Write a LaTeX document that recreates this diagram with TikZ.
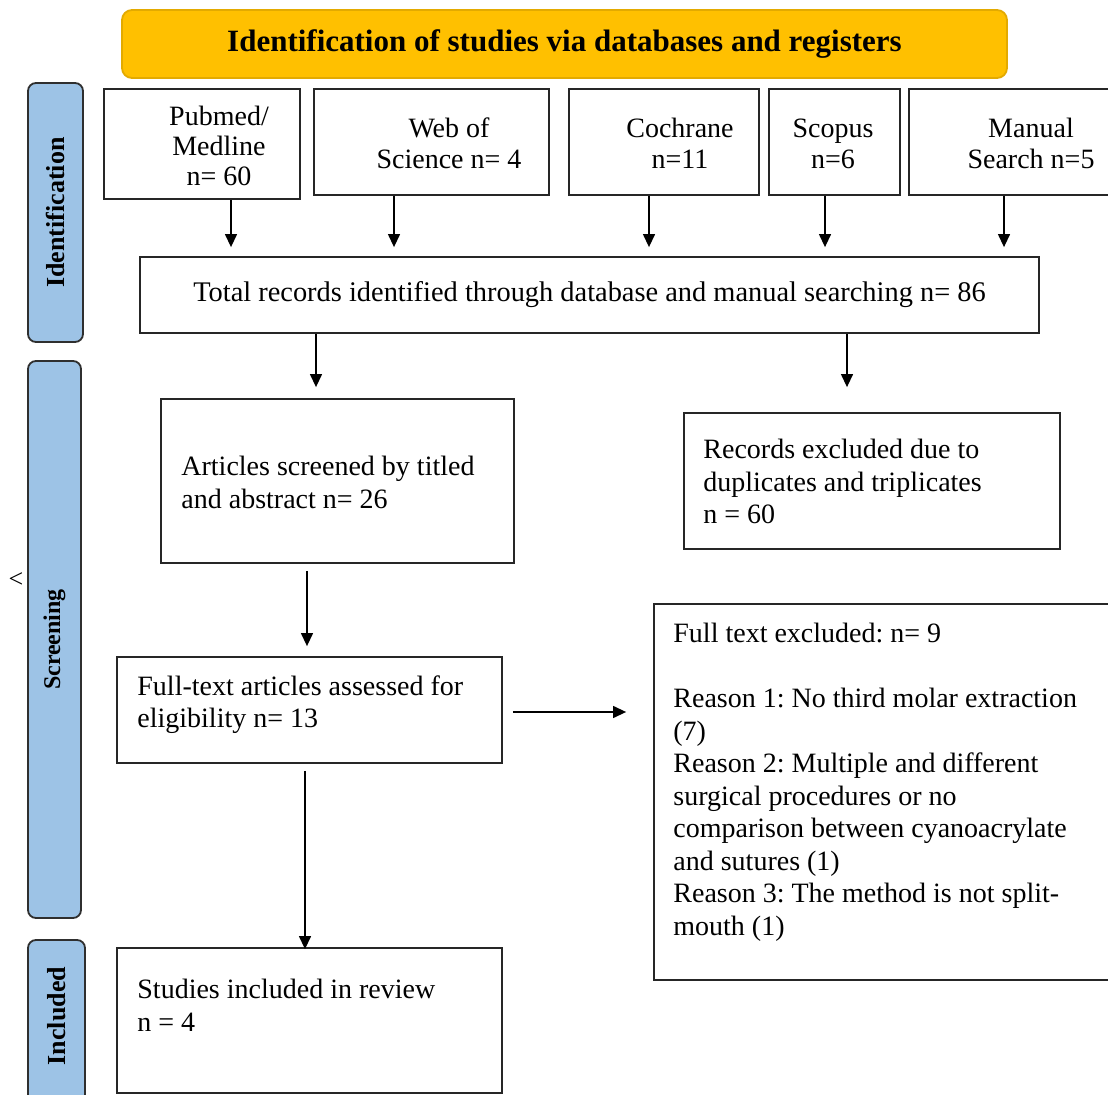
\documentclass[tikz,border=0pt]{standalone}
\usepackage{fontspec}
\setmainfont{Liberation Serif}
\usetikzlibrary{arrows.meta}
\definecolor{titlefill}{HTML}{FFC000}
\definecolor{titledraw}{HTML}{E3AA00}
\definecolor{sidefill}{HTML}{9DC3E6}
\definecolor{sidedraw}{HTML}{2F2F2F}
\frenchspacing
\begin{document}
\begin{tikzpicture}[x=0.5pt,y=-0.5pt,
  box/.style={draw=black!85,line width=0.9pt,rectangle,inner sep=0pt},
  side/.style={draw=sidedraw,fill=sidefill,line width=0.9pt,rounded corners=4pt,inner sep=0pt},
  sidetxt/.style={font=\fontsize{13pt}{13pt}\selectfont\bfseries,inner sep=0pt},
  ctxt/.style={align=center,font=\fontsize{14pt}{15.5pt}\selectfont,inner sep=0pt},
  ltxt/.style={align=left,font=\fontsize{14pt}{16.25pt}\selectfont,inner sep=0pt,anchor=north west},
  arr/.style={-{Triangle[length=6.5pt,width=6pt]},line width=0.65pt,black}
]
\useasboundingbox (0,0) rectangle (1108,1095);

% title
\node[draw=titledraw,fill=titlefill,line width=0.9pt,rounded corners=5pt,
      minimum width=442.5pt,minimum height=34pt,inner sep=0pt,
      font=\fontsize{15.5pt}{15.5pt}\selectfont\bfseries] (title) at (564.5,44)
      {Identification of studies via databases and registers};

% side labels
\node[side,sidetxt,minimum width=129.5pt,minimum height=27.5pt,rotate=90] (sid) at (55.5,212.5) {Identification};
\node[side,sidetxt,minimum width=278.5pt,minimum height=26.5pt,rotate=90,
      font=\fontsize{12pt}{12pt}\selectfont\bfseries] (sscr) at (54.5,639.5) {Screening};
\node[side,minimum width=97.5pt,minimum height=28.5pt,rotate=90] (sinc) at (56.5,1037.5) {};
\node[sidetxt,rotate=90] (sincT) at (56.5,1016) {Included};
\node[inner sep=0pt,font=\fontsize{13pt}{13pt}\selectfont] (mark) at (16,580) {<};

% source boxes
\node[box,minimum width=98pt,minimum height=55pt] (pub) at (202,144) {};
\node[ctxt,font=\fontsize{14pt}{15pt}\selectfont] (pubT) at (219,146) {Pubmed/\\Medline\\n= 60};
\node[box,minimum width=117.5pt,minimum height=53pt] (wos) at (431.5,142) {};
\node[ctxt] (wosT) at (449,143.5) {Web of\\Science n= 4};
\node[box,minimum width=95pt,minimum height=53pt] (coch) at (664,142) {};
\node[ctxt] (cochT) at (680,143.5) {Cochrane\\n=11};
\node[box,minimum width=65.5pt,minimum height=53pt] (scop) at (834.5,142) {};
\node[ctxt] (scopT) at (833,143.5) {Scopus\\n=6};
\node[box,minimum width=102.5pt,minimum height=53pt] (man) at (1011.5,142) {};
\node[ctxt] (manT) at (1031,143.5) {Manual\\Search n=5};

% total
\node[box,minimum width=449.5pt,minimum height=38pt,font=\fontsize{14.2pt}{16.25pt}\selectfont] (total) at (589.5,295)
  {Total records identified through database and manual searching n= 86};

% screening
\node[box,minimum width=176.5pt,minimum height=82pt] (scr) at (337.5,481) {};
\node[ltxt] (scrT) at (181,456) {Articles screened by titled\\and abstract n= 26};
\node[box,minimum width=188pt,minimum height=68pt] (dup) at (872,481) {};
\node[ltxt] (dupT) at (703,439) {Records excluded due to\\duplicates and triplicates\\n = 60};

\node[box,minimum width=192.5pt,minimum height=53pt] (elig) at (309.5,710) {};
\node[ltxt] (eligT) at (137,675) {Full-text articles assessed for\\eligibility n= 13};

\node[box,minimum width=230pt,minimum height=188pt] (ex2) at (884,792) {};
\node[ltxt] (ex2T) at (673,623) {Full text excluded: n= 9\\[16.25pt]Reason 1: No third molar extraction\\(7)\\Reason 2: Multiple and different\\surgical procedures or no\\comparison between cyanoacrylate\\and sutures (1)\\Reason 3: The method is not split-\\mouth (1)};

\node[box,minimum width=192.5pt,minimum height=72.5pt] (inc) at (309.5,1020.5) {};
\node[ltxt] (incT) at (137,979) {Studies included in review\\n = 4};

% arrows
\foreach \n/\dx in {pub/14.5pt,wos/-18.75pt,coch/-7.5pt,scop/-4.75pt,man/-3.75pt}
  \draw[arr,shorten >=4.5pt] ([xshift=\dx]\n.south) -- ([xshift=\dx]\n.south |- total.north);
\draw[arr,shorten >=5.5pt] ([xshift=-10.75pt]scr.north |- total.south) -- ([xshift=-10.75pt]scr.north);
\draw[arr,shorten >=12.5pt] ([xshift=-12.5pt]dup.north |- total.south) -- ([xshift=-12.5pt]dup.north);
\draw[arr,shorten <=3.5pt,shorten >=5pt] ([xshift=-1.25pt]elig.north |- scr.south) -- ([xshift=-1.25pt]elig.north);
\draw[arr,shorten <=5pt,shorten >=13.5pt] ([yshift=-1pt]elig.east) -- ([yshift=-1pt]elig.east -| ex2.west);
\draw[arr,shorten <=3.5pt,shorten >=-1pt] ([xshift=-2.25pt]elig.south) -- ([xshift=-2.25pt]inc.north);
\end{tikzpicture}
\end{document}
